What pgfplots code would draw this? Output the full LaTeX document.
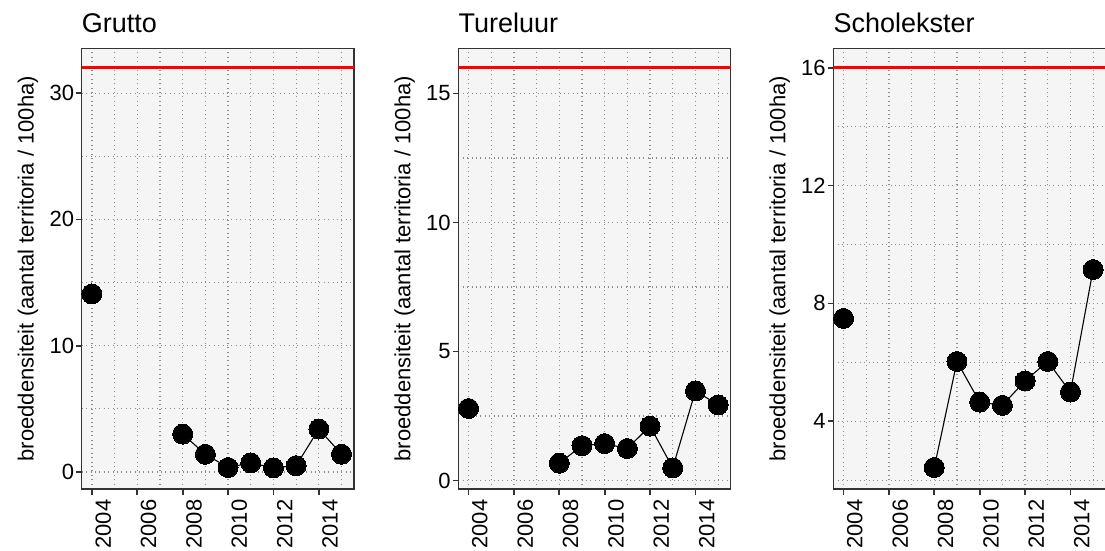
\documentclass[border=0pt]{standalone}
\usepackage{pgfplots}
\pgfplotsset{compat=1.18}
\usepackage{fontspec}
\setmainfont{Liberation Sans}
\definecolor{bgc}{HTML}{F5F5F5}
\definecolor{gridc}{HTML}{8E8E8E}
\definecolor{framec}{HTML}{333333}

\pgfplotsset{
  panel/.style={
    scale only axis, width=272.3pt, height=440.7pt, anchor=south west,
    xmin=2003.55, xmax=2015.55,
    xtick={2004,2006,2008,2010,2012,2014},
    xticklabels={2004,2006,2008,2010,2012,2014},
    minor xtick={2005,2007,2009,2011,2013,2015},
    grid=both,
    major grid style={gridc, line width=1.2pt, dash pattern=on 1.1pt off 3.3pt},
    minor grid style={gridc, line width=1.2pt, dash pattern=on 1.1pt off 3.3pt},
    axis line style={framec, line width=1.5pt},
    tick style={framec, line width=1.8pt},
    major tick length=5.5pt, minor tick length=0pt,
    tick align=outside,
    xtick pos=left, ytick pos=left,
    axis background/.style={fill=bgc},
    every tick label/.append style={font=\fontsize{22}{24}\selectfont, text=black},
    xticklabel style={inner sep=0pt, xshift=11.3pt, yshift=-5pt, rotate=90, anchor=east},
    yticklabel style={inner sep=0pt, xshift=-2pt, anchor=east},
    every axis y label/.style={at={([xshift=-48pt]rel axis cs:0,0.5)}, rotate=90, anchor=base, inner sep=0pt, font=\fontsize{22}{24}\selectfont},
    ylabel={broeddensiteit (aantal territoria / 100ha)},
    every axis title/.style={at={([yshift=16pt]rel axis cs:0,1)}, anchor=base west, inner sep=0pt, font=\fontsize{27}{30}\selectfont},
  },
  pts/.style={black, line width=1.1pt, mark=*, mark size=10pt, mark options={solid, fill=black, line width=0pt}},
  refline/.style={red, line width=2.8pt, forget plot},
}

\begin{document}
\begin{tikzpicture}
\useasboundingbox (0,0) rectangle (1105pt,550pt);

% Grutto
\begin{axis}[panel, at={(81.7pt,61pt)},
  ymin=-1.35, ymax=33.55,
  ytick={0,10,20,30}, yticklabels={0,10,20,30},
  minor ytick={5,15,25},
  title={Grutto}]
  \addplot[refline] coordinates {(2002,32) (2017,32)};
  \addplot[pts] coordinates {(2004,14.1)};
  \addplot[pts] coordinates {(2008,3.0) (2009,1.4) (2010,0.35) (2011,0.72) (2012,0.33) (2013,0.5) (2014,3.4) (2015,1.4)};
\end{axis}

% Tureluur
\begin{axis}[panel, at={(458.3pt,61pt)},
  ymin=-0.33, ymax=16.75,
  ytick={0,5,10,15}, yticklabels={0,5,10,15},
  minor ytick={2.5,7.5,12.5},
  title={Tureluur}]
  \addplot[refline] coordinates {(2002,16) (2017,16)};
  \addplot[pts] coordinates {(2004,2.79)};
  \addplot[pts] coordinates {(2008,0.67) (2009,1.35) (2010,1.43) (2011,1.24) (2012,2.11) (2013,0.49) (2014,3.47) (2015,2.93)};
\end{axis}

% Scholekster
\begin{axis}[panel, at={(833.3pt,61pt)},
  ymin=1.7, ymax=16.66,
  ytick={4,8,12,16}, yticklabels={4,8,12,16},
  minor ytick={2,6,10,14},
  title={Scholekster}]
  \addplot[refline] coordinates {(2002,16) (2017,16)};
  \addplot[pts] coordinates {(2004,7.49)};
  \addplot[pts] coordinates {(2008,2.43) (2009,6.03) (2010,4.65) (2011,4.54) (2012,5.37) (2013,6.03) (2014,4.99) (2015,9.15)};
\end{axis}
\end{tikzpicture}
\end{document}
